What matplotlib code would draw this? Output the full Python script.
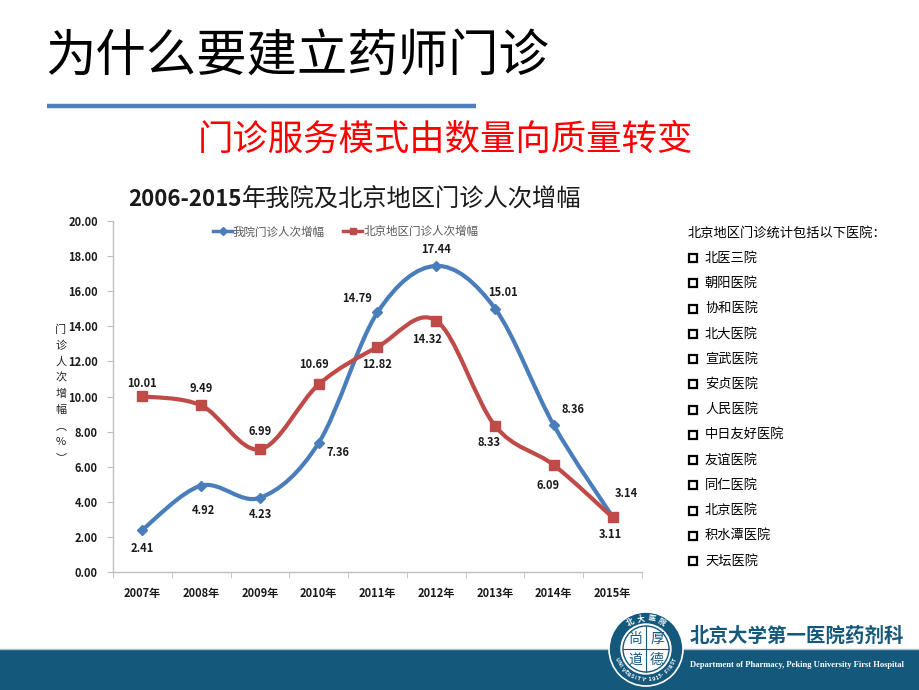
import numpy as np
import matplotlib.pyplot as plt
from matplotlib.path import Path
from matplotlib.patches import PathPatch, Circle, Rectangle
from matplotlib.lines import Line2D

plt.rcParams['font.family'] = ['Noto Sans CJK SC', 'DejaVu Sans']

# data
years = ['2007年', '2008年', '2009年', '2010年', '2011年', '2012年', '2013年', '2014年', '2015年']
our_hospital = [2.41, 4.92, 4.23, 7.36, 14.79, 17.44, 15.01, 8.36, 3.14]
beijing = [10.01, 9.49, 6.99, 10.69, 12.82, 14.32, 8.33, 6.09, 3.11]
hospitals = ['北医三院', '朝阳医院', '协和医院', '北大医院', '宣武医院', '安贞医院', '人民医院',
             '中日友好医院', '友谊医院', '同仁医院', '北京医院', '积水潭医院', '天坛医院']

# label offsets in pixels (dx, dy up positive)
blue_off = [(0, -19), (2, -25), (0, -17), (19, -10), (-20, 14), (0, 16), (8, 16), (19, 16), (14, 23)]
red_off = [(0, 13), (0, 17), (0, 18), (-5, 20), (0, -17), (-9, -19), (-6, -17), (-6, -20), (-2, -17)]

BLUE = '#4A7EBB'
RED = '#BE4B48'
TEAL = '#14587C'


def smooth_path(xs, ys):
    # Excel-like smoothed line through the points (cubic bezier, catmull-rom tangents)
    pts = np.column_stack([xs, ys]).astype(float)
    n = len(pts)
    verts = [pts[0]]
    codes = [Path.MOVETO]
    for i in range(n - 1):
        p0 = pts[i - 1] if i > 0 else pts[i]
        p3 = pts[i + 2] if i + 2 < n else pts[i + 1]
        c1 = pts[i] + (pts[i + 1] - p0) / 6
        c2 = pts[i + 1] - (p3 - pts[i]) / 6
        verts += [c1, c2, pts[i + 1]]
        codes += [Path.CURVE4] * 3
    return Path(verts, codes)


fig = plt.figure(figsize=(9.2, 6.9), dpi=100)

# decoration layer in pixel coordinates
deco = fig.add_axes([0, 0, 1, 1])
deco.set_xlim(0, 920)
deco.set_ylim(690, 0)
deco.axis('off')

deco.text(45, 57, '为什么要建立药师门诊', fontsize=36.3, color='black', va='center', ha='left')
deco.plot([47, 476], [106, 106], color='#4F81BD', lw=3.2, solid_capstyle='butt')
deco.text(445, 140, '门诊服务模式由数量向质量转变', fontsize=25.5, color='#FF0000', va='center', ha='center')

# chart title: bold digits + regular chinese
t1 = deco.text(128, 199, '2006-2015', fontsize=16, fontweight='bold', va='center', ha='left',
               color='#1A1A1A')
fig.canvas.draw()
bb = t1.get_window_extent(renderer=fig.canvas.get_renderer())
deco.text(bb.x1 + 1, 199, '年我院及北京地区门诊人次增幅', fontsize=17.5, va='center', ha='left',
          color='#1A1A1A')

# y axis label, stacked characters
for k, ch in enumerate('门诊人次增幅︵%︶'):
    deco.text(61, 330 + k * 16, ch, fontsize=8, ha='center', va='center', color='#222222')

# hospital list
deco.text(688, 233, '北京地区门诊统计包括以下医院：', fontsize=9.5, ha='left', va='center')
for k, name in enumerate(hospitals):
    y = 258 + k * 25.25
    deco.add_patch(Rectangle((689, y - 4), 8, 8, fill=False, lw=1.6, edgecolor='black'))
    deco.text(705, y, name, fontsize=9.5, ha='left', va='center')

# bottom band and logo
deco.add_patch(Rectangle((0, 650), 920, 40, color=TEAL, lw=0))
deco.plot([0, 920], [648.5, 648.5], color='#A9C0D0', lw=1)
deco.text(690, 636, '北京大学第一医院药剂科', fontsize=14, fontweight='bold', color=TEAL,
          ha='left', va='center')
deco.text(690, 665, 'Department of Pharmacy, Peking University First Hospital', fontsize=6.1,
          fontweight='bold', family='Liberation Serif', color='white', ha='left', va='center')

cx, cy = 646, 649
deco.add_patch(Circle((cx, cy), 37, facecolor=TEAL, edgecolor='white', lw=1.2, zorder=3))
deco.add_patch(Circle((cx, cy), 25, facecolor='white', edgecolor='white', lw=1, zorder=4))
deco.add_patch(Circle((cx, cy), 23, facecolor='white', edgecolor=TEAL, lw=1, zorder=4))
deco.plot([cx - 23, cx + 23], [cy, cy], color=TEAL, lw=0.8, zorder=5)
deco.plot([cx, cx], [cy - 23, cy + 23], color=TEAL, lw=0.8, zorder=5)
for ch, (dx, dy) in zip('尚厚道德', [(-11, -10), (11, -10), (-11, 11), (11, 11)]):
    deco.text(cx + dx, cy + dy, ch, fontsize=10, color=TEAL, ha='center', va='center', zorder=6)
for k, ch in enumerate('北大医院'):
    ang = np.deg2rad(120 - k * 20)
    deco.text(cx + 31 * np.cos(ang), cy - 31 * np.sin(ang), ch, fontsize=5.5, color='white',
              fontweight='bold', ha='center', va='center', rotation=np.rad2deg(ang) - 90, zorder=6)
ring = 'UNIVERSITY·1915·FIRST'
for k, ch in enumerate(ring):
    ang = np.deg2rad(200 + k * 7)
    deco.text(cx + 31 * np.cos(ang), cy - 31 * np.sin(ang), ch, fontsize=3.8, color='white',
              fontweight='bold', ha='center', va='center', rotation=np.rad2deg(ang) + 90, zorder=6)

# chart
ax = fig.add_axes([113 / 920, 1 - 572 / 690, 529 / 920, 351 / 690])
ax.patch.set_alpha(0)
x = np.arange(len(years))

for vals, col, mk, ms, offs in [(our_hospital, BLUE, 'D', 5.5, blue_off),
                                (beijing, RED, 's', 7.5, red_off)]:
    ax.add_patch(PathPatch(smooth_path(x, vals), facecolor='none', edgecolor=col, lw=3,
                           capstyle='round', zorder=3))
    ax.plot(x, vals, linestyle='none', marker=mk, markersize=ms, color=col, zorder=4)
    for xi, v, (dx, dy) in zip(x, vals, offs):
        ax.annotate(f'{v:.2f}', (xi, v), xytext=(dx, dy), textcoords='offset pixels',
                    ha='center', va='center', fontsize=8, fontweight='bold', color='#1A1A1A')

ax.set_xlim(-0.5, len(years) - 0.5)
ax.set_ylim(0, 20)
ax.set_yticks(np.arange(0, 21, 2))
ax.set_yticklabels([f'{v:.2f}' for v in np.arange(0, 21, 2)])
ax.set_xticks(x)
ax.set_xticklabels(years)
ax.set_xticks(np.arange(-0.5, len(years)), minor=True)
ax.tick_params(axis='x', which='major', length=0, pad=11)
ax.tick_params(axis='x', which='minor', length=4, color='#BFBFBF', direction='out')
ax.tick_params(axis='y', length=4, color='#BFBFBF', pad=7)
for lab in ax.get_xticklabels() + ax.get_yticklabels():
    lab.set_fontsize(8)
    lab.set_fontweight('bold')
    lab.set_color('#1A1A1A')
for s in ['top', 'right']:
    ax.spines[s].set_visible(False)
for s in ['left', 'bottom']:
    ax.spines[s].set_color('#BFBFBF')
    ax.spines[s].set_linewidth(1)

handles = [Line2D([], [], color=BLUE, lw=2.5, marker='D', markersize=4),
           Line2D([], [], color=RED, lw=2.5, marker='s', markersize=5)]
leg = ax.legend(handles, ['我院门诊人次增幅', '北京地区门诊人次增幅'], loc='center',
                bbox_to_anchor=(0.44, 0.969), ncol=2, frameon=False, fontsize=8.3,
                handlelength=1.6, handletextpad=0.1, columnspacing=1.6, labelcolor='#595959')

fig.savefig('out.png', dpi=100)
